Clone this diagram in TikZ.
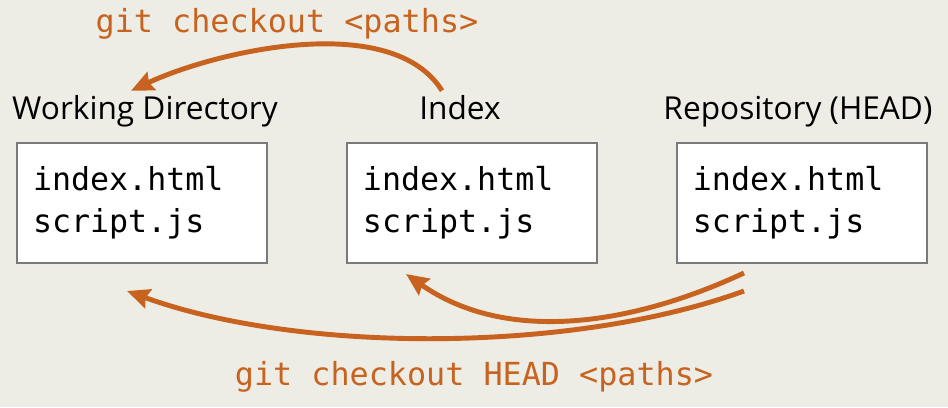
\documentclass[tikz,border=0pt]{standalone}
\usepackage{fontspec}
\setsansfont{Open Sans}
\setmonofont{DejaVu Sans Mono}
\usetikzlibrary{arrows.meta, positioning, calc}
\definecolor{cbg}{HTML}{EDEDE6}
\definecolor{corange}{HTML}{C8631F}
\definecolor{cgrey}{HTML}{7A7A7A}
\tikzset{
  every picture/.style={font=\sffamily},
  box/.style={draw=cgrey, fill=white, line width=1.4pt, minimum width=6.25cm, minimum height=3cm,
    text width=5.45cm, inner xsep=0.4cm, align=left, font=\ttfamily\fontsize{22.5}{30}\selectfont},
  title/.style={font=\sffamily\fontsize{22.5}{27}\selectfont, inner sep=0pt, anchor=base},
  cmd/.style={font=\ttfamily\fontsize{22.6}{26}\selectfont, text=corange, inner sep=0pt, anchor=base},
  arrow/.style={-{Stealth[length=16pt, width=14pt, inset=2pt]}, draw=corange, line width=3.5pt},
}

\begin{document}
\begin{tikzpicture}
  \useasboundingbox (0,0) rectangle (23.7,-10.175);
  \fill[cbg] (0,0) rectangle (23.7,-10.175);
  % the three areas
  \node[box] (workdir) at (3.55,-5.075) {index.html\\script.js};
  \node[box, right=1.95cm of workdir] (index) {index.html\\script.js};
  \node[box, right=1.95cm of index] (repo) {index.html\\script.js};
  \node[title] (wdtitle) at ($(workdir.north)+(0.075,0.575)$) {Working Directory};
  \node[title] (idxtitle) at ($(index.north)+(-0.3,0.575)$) {Index};
  \node[title] (repotitle) at ($(repo.north)+(-0.1,0.575)$) {Repository (HEAD)};
  % commands
  \node[cmd] (topcmd) at (7.175,-0.8) {git checkout <paths>};
  \node[cmd] (headcmd) at (11.85,-9.625) {git checkout HEAD <paths>};
  \draw[arrow] ($(idxtitle.north west)+(0.575,0.1)$) to[out=122, in=25, looseness=0.78] ($(wdtitle.north)+(-0.35,0.1)$);
  \draw[arrow] ($(repo.south west)+(1.7,-0.225)$) to[out=205, in=-35, looseness=0.93] ($(index.south west)+(1.5,-0.25)$);
  \draw[arrow] ($(repo.south west)+(1.7,-0.675)$) to[out=200, in=-20, looseness=0.76] ($(workdir.south west)+(2.775,-0.675)$);
\end{tikzpicture}
\end{document}
